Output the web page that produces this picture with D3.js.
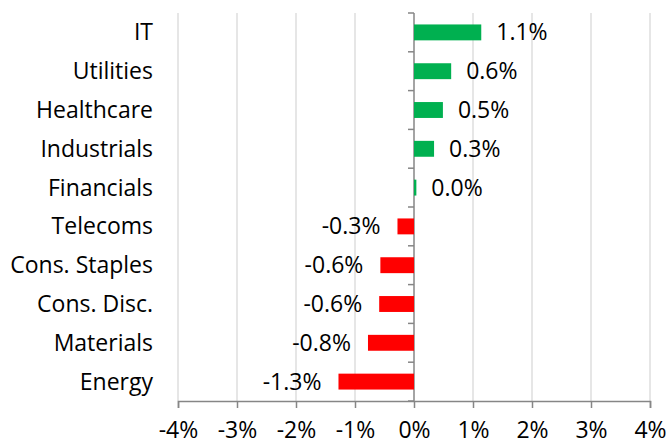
<!DOCTYPE html>
<meta charset="utf-8">
<style>

body {
  margin: 0;
  background: #fff;
}

text {
  font-family: "Open Sans", sans-serif;
  font-size: 23px;
  fill: #000;
}

.grid line {
  stroke: #d9d9d9;
  stroke-width: 1.3;
}

.axis path,
.axis line {
  stroke: #868686;
  stroke-width: 1.5;
}

</style>
<svg width="667" height="445"></svg>
<script src="https://d3js.org/d3.v7.min.js"></script>
<script>

var sectors = ["IT", "Utilities", "Healthcare", "Industrials", "Financials",
               "Telecoms", "Cons. Staples", "Cons. Disc.", "Materials", "Energy"];
var returns = [1.14, 0.63, 0.49, 0.34, 0.04, -0.28, -0.57, -0.59, -0.78, -1.28];
var xTicks = [-4, -3, -2, -1, 0, 1, 2, 3, 4];

var svg = d3.select("svg"),
    margin = {top: 13, right: 17, bottom: 44, left: 178},
    width = +svg.attr("width") - margin.left - margin.right,
    height = +svg.attr("height") - margin.top - margin.bottom;

var x = d3.scaleLinear()
    .domain([-4, 4])
    .range([0, width]);

var y = d3.scaleBand()
    .domain(sectors)
    .range([0, height])
    .paddingInner(0.59)
    .paddingOuter(0.295);

var g = svg.append("g")
    .attr("transform", "translate(" + margin.left + "," + margin.top + ")");

// vertical gridlines
g.append("g")
    .attr("class", "grid")
  .selectAll("line")
  .data(xTicks.filter(function(d) { return d !== 0; }))
  .enter().append("line")
    .attr("x1", function(d) { return x(d); })
    .attr("x2", function(d) { return x(d); })
    .attr("y1", 0)
    .attr("y2", height);

// bottom axis
var xAxis = g.append("g")
    .attr("class", "axis")
    .attr("transform", "translate(0," + height + ")")
    .call(d3.axisBottom(x)
      .tickValues(xTicks)
      .tickSize(7)
      .tickSizeOuter(7)
      .tickPadding(14)
      .tickFormat(function(d) { return d + "%"; }));

xAxis.selectAll("text")
    .style("font-size", "23px")
    .style("font-family", "'Open Sans', sans-serif")
    .attr("fill", "#000");

// zero axis with band boundary ticks
var step = y.step();
var boundaries = d3.range(sectors.length + 1).map(function(i) { return i * step; });

var zero = g.append("g")
    .attr("class", "axis")
    .attr("transform", "translate(" + x(0) + ",0)");

zero.append("path")
    .attr("d", "M0,0V" + height);

zero.selectAll("line")
  .data(boundaries)
  .enter().append("line")
    .attr("x1", -6)
    .attr("x2", 0)
    .attr("y1", function(d) { return d; })
    .attr("y2", function(d) { return d; });

// category labels
g.append("g")
  .selectAll("text")
  .data(sectors)
  .enter().append("text")
    .attr("x", -25)
    .attr("y", function(d) { return y(d) + y.bandwidth() / 2; })
    .attr("dy", "0.35em")
    .attr("text-anchor", "end")
    .text(function(d) { return d; });

// bars
g.append("g")
  .selectAll("rect")
  .data(returns)
  .enter().append("rect")
    .attr("x", function(d) { return x(Math.min(0, d)); })
    .attr("y", function(d, i) { return y(sectors[i]); })
    .attr("width", function(d) { return Math.abs(x(d) - x(0)); })
    .attr("height", y.bandwidth())
    .attr("fill", function(d) { return d >= 0 ? "#00b050" : "#ff0000"; });

// value labels
g.append("g")
  .selectAll("text")
  .data(returns)
  .enter().append("text")
    .attr("x", function(d) { return d >= 0 ? x(d) + 15 : x(d) - 17; })
    .attr("y", function(d, i) { return y(sectors[i]) + y.bandwidth() / 2; })
    .attr("dy", "0.35em")
    .attr("text-anchor", function(d) { return d >= 0 ? "start" : "end"; })
    .text(function(d) { return d.toFixed(1) + "%"; });

</script>
